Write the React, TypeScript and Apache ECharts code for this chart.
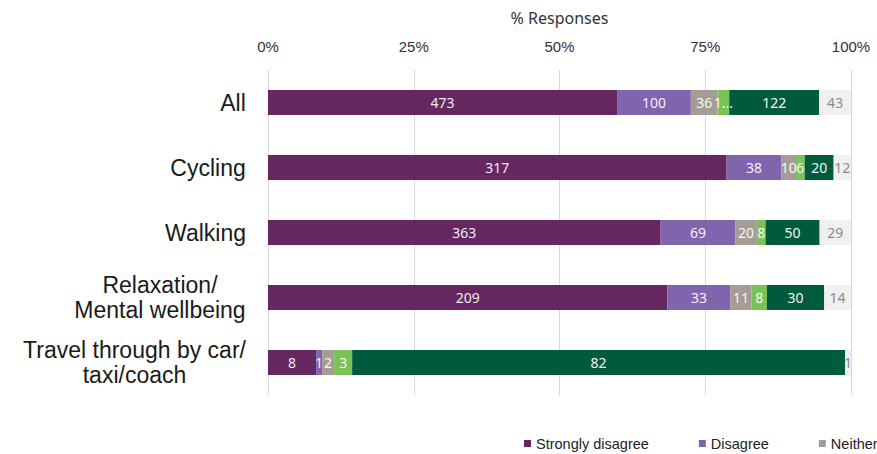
import React, { useEffect, useRef } from "react";
import * as echarts from "echarts";

const categories = [
  "All",
  "Cycling",
  "Walking",
  "Relaxation/\nMental wellbeing",
  "Travel through by car/\ntaxi/coach",
];
const seriesNames = [
  "Strongly disagree",
  "Disagree",
  "Neither agree nor disagree",
  "Agree",
  "Strongly agree",
  "Don't know",
];
const stronglyDisagree = [473, 317, 363, 209, 8];
const disagree = [100, 38, 69, 33, 1];
const neither = [36, 10, 20, 11, 2];
const agree = [16, 6, 8, 8, 3];
const stronglyAgree = [122, 20, 50, 30, 82];
const dontKnow = [43, 12, 29, 14, 1];
const agreeLabels = ["1...", "6", "8", "8", "3"];
const xMin = 0;
const xMax = 100;
const xInterval = 25;

const colors = ["#662761", "#8064ae", "#a59d95", "#78c257", "#005a3c", "#f0f0f0"];
const labelColors = ["#f0eaf0", "#f4f0fa", "#f6f6f6", "#f6f6f6", "#f0f6f2", "#8c8c8c"];

const CAT_FONT_SIZE = 23;
const CAT_FONT = "Liberation Sans";

function measure(text: string): number {
  const c = document.createElement("canvas").getContext("2d");
  if (!c) return text.length * CAT_FONT_SIZE * 0.5;
  c.font = `${CAT_FONT_SIZE}px "${CAT_FONT}"`;
  return c.measureText(text).width;
}

export default function App() {
  const ref = useRef<HTMLDivElement>(null);
  useEffect(() => {
    if (!ref.current) return;
    const chart = echarts.init(ref.current, undefined, { renderer: "svg" });
    const groups = [stronglyDisagree, disagree, neither, agree, stronglyAgree, dontKnow];
    const totals = categories.map((_, i) => groups.reduce((s, g) => s + g[i], 0));
    const series = groups.map((g, si) => ({
      name: seriesNames[si],
      type: "bar",
      stack: "total",
      barWidth: 25,
      itemStyle: { color: colors[si] },
      label: {
        show: true,
        position: "inside",
        color: labelColors[si],
        fontSize: 14,
        fontFamily: "Noto Sans",
        formatter: (p: any) =>
          si === 3 ? agreeLabels[p.dataIndex] : String(g[p.dataIndex]),
      },
      data: g.map((v, i) => (v / totals[i]) * 100),
    }));
    const rich: Record<string, any> = {};
    categories.forEach((c, i) => {
      const w = Math.ceil(Math.max(...c.split("\n").map(measure)));
      rich["c" + i] = {
        width: w,
        align: "center",
        fontSize: CAT_FONT_SIZE,
        lineHeight: 25,
        fontFamily: CAT_FONT,
        color: "#1a1a1a",
      };
    });
    chart.setOption({
      animation: false,
      legend: {
        left: 519,
        top: 431,
        itemWidth: 7,
        itemHeight: 7,
        itemGap: 50,
        icon: "rect",
        width: 1000,
        data: seriesNames,
        textStyle: { fontSize: 14.5, fontFamily: "Liberation Sans", color: "#222" },
      },
      grid: { left: 268, width: 583, top: 70, height: 325 },
      xAxis: {
        type: "value",
        position: "top",
        min: xMin,
        max: xMax,
        interval: xInterval,
        name: "% Responses",
        nameLocation: "middle",
        nameGap: 44,
        nameTextStyle: { fontSize: 16, fontFamily: "Noto Sans", color: "#333" },
        axisLine: { show: false },
        axisTick: { show: false },
        axisLabel: {
          formatter: "{value}%",
          fontSize: 15,
          fontFamily: "Liberation Sans",
          color: "#333",
          margin: 16,
        },
        splitLine: { lineStyle: { color: "#d9d9d9" } },
      },
      yAxis: {
        type: "category",
        inverse: true,
        data: categories,
        axisLine: { show: false },
        axisTick: { show: false },
        axisLabel: {
          align: "right",
          margin: 22,
          formatter: (v: string, idx: number) =>
            v
              .split("\n")
              .map((l) => `{c${idx}|${l}}`)
              .join("\n"),
          rich,
        },
      },
      series,
    });
    return () => chart.dispose();
  }, []);
  return (
    <div
      style={{
        position: "fixed",
        left: 0,
        top: 0,
        width: 877,
        height: 454,
        overflow: "hidden",
        background: "#fff",
      }}
    >
      <div ref={ref} style={{ width: 1200, height: 454 }} />
    </div>
  );
}
